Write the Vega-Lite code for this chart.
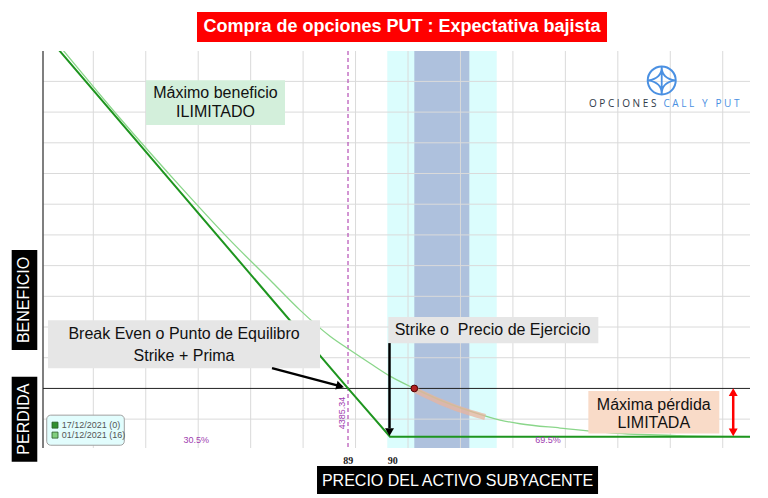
{
  "$schema": "https://vega.github.io/schema/vega-lite/v6.json",
  "width": 707,
  "height": 397,
  "autosize": "none",
  "padding": {"left": 43, "top": 51, "right": 18, "bottom": 50},
  "background": "white",
  "config": {"view": {"stroke": null}, "font": "Liberation Sans"},
  "datasets": {
    "outerBand": [{"x": 5.605, "x2": 7.691}],
    "innerBand": [{"x": 6.12, "x2": 7.169}],
    "vgrid": [{"x": 0}, {"x": 1}, {"x": 2}, {"x": 3}, {"x": 4}, {"x": 5}, {"x": 6}, {"x": 7}, {"x": 8}, {"x": 9}, {"x": 10}, {"x": 11}, {"x": 12}],
    "hgrid": [{"y": -1}, {"y": 1}, {"y": 2}, {"y": 3}, {"y": 4}, {"y": 5}, {"y": 6}, {"y": 7}, {"y": 8}, {"y": 9}, {"y": 10}],
    "leftEdge": [{"x": -0.959}],
    "zero": [{"y": 0}],
    "breakEven": [{"x": 4.856}],
    "expiry": [{"x": -0.959, "y": 11.63}, {"x": 4.856, "y": 0}, {"x": 5.657, "y": -1.57}, {"x": 12.52, "y": -1.57}],
    "t16": [
      {"x": -0.578, "y": 11.02}, {"x": 0.509, "y": 8.8}, {"x": 1.653, "y": 6.59}, {"x": 2.606, "y": 4.83},
      {"x": 3.369, "y": 3.53}, {"x": 3.941, "y": 2.55}, {"x": 4.513, "y": 1.7}, {"x": 4.894, "y": 1.25},
      {"x": 5.275, "y": 0.82}, {"x": 5.657, "y": 0.4}, {"x": 6.12, "y": 0}, {"x": 6.61, "y": -0.38},
      {"x": 7.182, "y": -0.74}, {"x": 7.754, "y": -1.03}, {"x": 8.135, "y": -1.15}, {"x": 8.898, "y": -1.29},
      {"x": 9.985, "y": -1.46}, {"x": 11.186, "y": -1.54}, {"x": 12.52, "y": -1.57}
    ],
    "nowRange": [{"x": 6.12, "y": -0.04}, {"x": 6.61, "y": -0.43}, {"x": 7.18, "y": -0.79}, {"x": 7.47, "y": -0.93}],
    "spot": [{"x": 6.12, "y": 0}],
    "boxes": [
      {"kind": "gain", "x": 1.005, "x2": 3.655, "y": 10.04, "y2": 8.58},
      {"kind": "note", "x": -0.864, "x2": 4.322, "y": 2.22, "y2": 0.66},
      {"kind": "note", "x": 5.624, "x2": 9.628, "y": 2.33, "y2": 1.47},
      {"kind": "loss", "x": 9.438, "x2": 11.935, "y": -0.08, "y2": -1.47}
    ],
    "notes": [
      {"x": 2.33, "y": 9.62, "text": "Máximo beneficio"},
      {"x": 2.33, "y": 9.0, "text": "ILIMITADO"},
      {"x": 1.73, "y": 1.76, "text": "Break Even o Punto de Equilibro"},
      {"x": 1.73, "y": 1.07, "text": "Strike + Prima"},
      {"x": 7.611, "y": 1.89, "text": "Strike o\u00a0 Precio de Ejercicio"},
      {"x": 10.685, "y": -0.544, "text": "Máxima pérdida"},
      {"x": 10.685, "y": -1.12, "text": "LIMITADA"}
    ],
    "blackArrows": [
      {"x": 3.407, "y": 0.661, "x2": 4.74, "y2": 0.06},
      {"x": 5.647, "y": 1.476, "x2": 5.647, "y2": -1.3}
    ],
    "headBE": [{"x": 4.706, "y": 0.075}],
    "headStrike": [{"x": 5.647, "y": -1.42}],
    "redArrow": [{"x": 12.2, "y": -0.1, "y2": -1.45}],
    "redHeadUp": [{"x": 12.2, "y": -0.12}],
    "redHeadDown": [{"x": 12.2, "y": -1.43}],
    "legendBox": [{"x": -0.888, "x2": 0.591, "y": -0.87, "y2": -1.85}],
    "legendItems": [
      {"series": "expiry", "x": -0.73, "tx": -0.602, "y": -1.195, "text": "17/12/2021 (0)"},
      {"series": "t16", "x": -0.73, "tx": -0.602, "y": -1.52, "text": "01/12/2021 (16)"}
    ],
    "pct": [{"x": 1.962, "y": -1.68, "text": "30.5%"}, {"x": 8.667, "y": -1.68, "text": "69.5%"}],
    "beValue": [{"x": 4.739, "y": -0.8, "text": "4385.34"}],
    "titleBox": [{"x": 1.977, "x2": 9.794, "y": 12.26, "y2": 11.28}],
    "labelBoxes": [
      {"x": -1.556, "x2": -1.068, "y": 4.51, "y2": 1.25},
      {"x": -1.556, "x2": -1.068, "y": 0.38, "y2": -2.39},
      {"x": 4.265, "x2": 9.623, "y": -2.53, "y2": -3.44}
    ],
    "titleText": [{"x": 5.886, "y": 11.77, "text": "Compra de opciones PUT : Expectativa bajista"}],
    "sideText": [{"x": -1.312, "y": 2.88, "text": "BENEFICIO"}, {"x": -1.312, "y": -1.0, "text": "PERDIDA"}],
    "xTitle": [{"x": 6.944, "y": -3.0, "text": "PRECIO DEL ACTIVO SUBYACENTE"}],
    "priceLabels": [{"x": 4.862, "y": -2.37, "text": "89"}, {"x": 5.709, "y": -2.37, "text": "90"}],
    "logoMark": [{"x": 10.837, "y": 10.03}],
    "logoWord1": [{"x": 9.45, "y": 9.28, "text": "O P C I O N E S"}],
    "logoWord2": [{"x": 10.87, "y": 9.28, "text": "C A L L\u00a0\u00a0 Y\u00a0\u00a0 P U T"}]
  },
  "layer": [
    {
      "data": {"name": "outerBand"},
      "mark": {"type": "rect", "color": "#dbfdfd"},
      "encoding": {
        "x": {"field": "x", "type": "quantitative", "scale": {"domain": [-0.959, 12.52], "nice": false, "zero": false},
          "axis": {"values": [0, 1, 2, 3, 4, 5, 6, 7, 8, 9, 10, 11, 12], "labels": false, "ticks": true, "tickSize": 4, "tickColor": "#666", "domain": true, "domainColor": "#111", "domainWidth": 1.2, "grid": false, "title": null, "zindex": 1}},
        "x2": {"field": "x2"}
      }
    },
    {
      "data": {"name": "innerBand"},
      "mark": {"type": "rect", "color": "#aec1dd"},
      "encoding": {
        "x": {"field": "x", "type": "quantitative", "scale": {"domain": [-0.959, 12.52], "nice": false, "zero": false}, "axis": null},
        "x2": {"field": "x2"}
      }
    },
    {
      "data": {"name": "vgrid"},
      "mark": {"type": "rule", "color": "#dadada", "strokeWidth": 1},
      "encoding": {
        "x": {"field": "x", "type": "quantitative", "scale": {"domain": [-0.959, 12.52], "nice": false, "zero": false}, "axis": null}
      }
    },
    {
      "data": {"name": "hgrid"},
      "mark": {"type": "rule", "color": "#dadada", "strokeWidth": 1},
      "encoding": {
        "y": {"field": "y", "type": "quantitative", "scale": {"domain": [-1.94, 10.99], "nice": false, "zero": false},
          "axis": {"orient": "right", "values": [-1, 0, 1, 2, 3, 4, 5, 6, 7, 8, 9, 10], "labels": false, "ticks": true, "tickSize": 4, "tickColor": "#444", "domain": true, "domainColor": "#444", "domainWidth": 1.5, "grid": false, "title": null, "zindex": 1}}
      }
    },
    {
      "data": {"name": "leftEdge"},
      "mark": {"type": "rule", "color": "#555", "strokeWidth": 1.5},
      "encoding": {
        "x": {"field": "x", "type": "quantitative", "scale": {"domain": [-0.959, 12.52], "nice": false, "zero": false}, "axis": null}
      }
    },
    {
      "data": {"name": "zero"},
      "mark": {"type": "rule", "color": "#222", "strokeWidth": 1},
      "encoding": {
        "y": {"field": "y", "type": "quantitative", "scale": {"domain": [-1.94, 10.99], "nice": false, "zero": false}, "axis": null}
      }
    },
    {
      "data": {"name": "breakEven"},
      "mark": {"type": "rule", "color": "#b64fb6", "strokeWidth": 1.2, "strokeDash": [4, 3]},
      "encoding": {
        "x": {"field": "x", "type": "quantitative", "scale": {"domain": [-0.959, 12.52], "nice": false, "zero": false}, "axis": null}
      }
    },
    {
      "data": {"name": "t16"},
      "mark": {"type": "line", "color": "#8ad68a", "strokeWidth": 1.3, "clip": true, "interpolate": "monotone"},
      "encoding": {
        "x": {"field": "x", "type": "quantitative", "scale": {"domain": [-0.959, 12.52], "nice": false, "zero": false}, "axis": null},
        "y": {"field": "y", "type": "quantitative", "scale": {"domain": [-1.94, 10.99], "nice": false, "zero": false}, "axis": null}
      }
    },
    {
      "data": {"name": "nowRange"},
      "mark": {"type": "line", "color": "#eab39c", "opacity": 0.75, "strokeWidth": 6, "strokeCap": "butt", "interpolate": "monotone"},
      "encoding": {
        "x": {"field": "x", "type": "quantitative", "scale": {"domain": [-0.959, 12.52], "nice": false, "zero": false}, "axis": null},
        "y": {"field": "y", "type": "quantitative", "scale": {"domain": [-1.94, 10.99], "nice": false, "zero": false}, "axis": null}
      }
    },
    {
      "data": {"name": "expiry"},
      "mark": {"type": "line", "color": "#1e951f", "strokeWidth": 2, "clip": true},
      "encoding": {
        "x": {"field": "x", "type": "quantitative", "scale": {"domain": [-0.959, 12.52], "nice": false, "zero": false}, "axis": null},
        "y": {"field": "y", "type": "quantitative", "scale": {"domain": [-1.94, 10.99], "nice": false, "zero": false}, "axis": null}
      }
    },
    {
      "data": {"name": "spot"},
      "mark": {"type": "point", "shape": "circle", "filled": true, "color": "#b22222", "stroke": "#4d0000", "strokeWidth": 1, "size": 45, "opacity": 1},
      "encoding": {
        "x": {"field": "x", "type": "quantitative", "scale": {"domain": [-0.959, 12.52], "nice": false, "zero": false}, "axis": null},
        "y": {"field": "y", "type": "quantitative", "scale": {"domain": [-1.94, 10.99], "nice": false, "zero": false}, "axis": null}
      }
    },
    {
      "data": {"name": "boxes"},
      "mark": {"type": "rect"},
      "encoding": {
        "x": {"field": "x", "type": "quantitative", "scale": {"domain": [-0.959, 12.52], "nice": false, "zero": false}, "axis": null},
        "x2": {"field": "x2"},
        "y": {"field": "y", "type": "quantitative", "scale": {"domain": [-1.94, 10.99], "nice": false, "zero": false}, "axis": null},
        "y2": {"field": "y2"},
        "color": {"field": "kind", "type": "nominal", "scale": {"domain": ["gain", "note", "loss"], "range": ["#d3efdb", "#e6e6e6", "#f9dbc8"]}, "legend": null}
      }
    },
    {
      "data": {"name": "notes"},
      "mark": {"type": "text", "fontSize": 16, "color": "#111", "align": "center", "baseline": "middle", "font": "Liberation Sans"},
      "encoding": {
        "x": {"field": "x", "type": "quantitative", "scale": {"domain": [-0.959, 12.52], "nice": false, "zero": false}, "axis": null},
        "y": {"field": "y", "type": "quantitative", "scale": {"domain": [-1.94, 10.99], "nice": false, "zero": false}, "axis": null},
        "text": {"field": "text"}
      }
    },
    {
      "data": {"name": "blackArrows"},
      "mark": {"type": "rule", "color": "#000", "strokeWidth": 2.5},
      "encoding": {
        "x": {"field": "x", "type": "quantitative", "scale": {"domain": [-0.959, 12.52], "nice": false, "zero": false}, "axis": null},
        "x2": {"field": "x2"},
        "y": {"field": "y", "type": "quantitative", "scale": {"domain": [-1.94, 10.99], "nice": false, "zero": false}, "axis": null},
        "y2": {"field": "y2"}
      }
    },
    {
      "data": {"name": "headBE"},
      "mark": {"type": "point", "shape": "triangle-up", "filled": true, "color": "#000", "size": 80, "angle": 105, "opacity": 1},
      "encoding": {
        "x": {"field": "x", "type": "quantitative", "scale": {"domain": [-0.959, 12.52], "nice": false, "zero": false}, "axis": null},
        "y": {"field": "y", "type": "quantitative", "scale": {"domain": [-1.94, 10.99], "nice": false, "zero": false}, "axis": null}
      }
    },
    {
      "data": {"name": "headStrike"},
      "mark": {"type": "point", "shape": "triangle-down", "filled": true, "color": "#000", "size": 80, "opacity": 1},
      "encoding": {
        "x": {"field": "x", "type": "quantitative", "scale": {"domain": [-0.959, 12.52], "nice": false, "zero": false}, "axis": null},
        "y": {"field": "y", "type": "quantitative", "scale": {"domain": [-1.94, 10.99], "nice": false, "zero": false}, "axis": null}
      }
    },
    {
      "data": {"name": "redArrow"},
      "mark": {"type": "rule", "color": "#ff0000", "strokeWidth": 2.5},
      "encoding": {
        "x": {"field": "x", "type": "quantitative", "scale": {"domain": [-0.959, 12.52], "nice": false, "zero": false}, "axis": null},
        "y": {"field": "y", "type": "quantitative", "scale": {"domain": [-1.94, 10.99], "nice": false, "zero": false}, "axis": null},
        "y2": {"field": "y2"}
      }
    },
    {
      "data": {"name": "redHeadUp"},
      "mark": {"type": "point", "shape": "triangle-up", "filled": true, "color": "#ff0000", "size": 80, "opacity": 1},
      "encoding": {
        "x": {"field": "x", "type": "quantitative", "scale": {"domain": [-0.959, 12.52], "nice": false, "zero": false}, "axis": null},
        "y": {"field": "y", "type": "quantitative", "scale": {"domain": [-1.94, 10.99], "nice": false, "zero": false}, "axis": null}
      }
    },
    {
      "data": {"name": "redHeadDown"},
      "mark": {"type": "point", "shape": "triangle-down", "filled": true, "color": "#ff0000", "size": 80, "opacity": 1},
      "encoding": {
        "x": {"field": "x", "type": "quantitative", "scale": {"domain": [-0.959, 12.52], "nice": false, "zero": false}, "axis": null},
        "y": {"field": "y", "type": "quantitative", "scale": {"domain": [-1.94, 10.99], "nice": false, "zero": false}, "axis": null}
      }
    },
    {
      "data": {"name": "legendBox"},
      "mark": {"type": "rect", "fill": "#e2fdfd", "stroke": "#a0a0a0", "strokeWidth": 1, "cornerRadius": 4},
      "encoding": {
        "x": {"field": "x", "type": "quantitative", "scale": {"domain": [-0.959, 12.52], "nice": false, "zero": false}, "axis": null},
        "x2": {"field": "x2"},
        "y": {"field": "y", "type": "quantitative", "scale": {"domain": [-1.94, 10.99], "nice": false, "zero": false}, "axis": null},
        "y2": {"field": "y2"}
      }
    },
    {
      "data": {"name": "legendItems"},
      "mark": {"type": "square", "size": 36, "opacity": 1, "stroke": "#2a5a2a", "strokeWidth": 0.8},
      "encoding": {
        "x": {"field": "x", "type": "quantitative", "scale": {"domain": [-0.959, 12.52], "nice": false, "zero": false}, "axis": null},
        "y": {"field": "y", "type": "quantitative", "scale": {"domain": [-1.94, 10.99], "nice": false, "zero": false}, "axis": null},
        "fill": {"field": "series", "type": "nominal", "scale": {"domain": ["expiry", "t16"], "range": ["#2f8f2f", "#7fcf7f"]}, "legend": null}
      }
    },
    {
      "data": {"name": "legendItems"},
      "mark": {"type": "text", "fontSize": 9, "color": "#555", "align": "left", "baseline": "middle"},
      "encoding": {
        "x": {"field": "tx", "type": "quantitative", "scale": {"domain": [-0.959, 12.52], "nice": false, "zero": false}, "axis": null},
        "y": {"field": "y", "type": "quantitative", "scale": {"domain": [-1.94, 10.99], "nice": false, "zero": false}, "axis": null},
        "text": {"field": "text"}
      }
    },
    {
      "data": {"name": "pct"},
      "mark": {"type": "text", "fontSize": 9, "color": "#a040b0", "align": "center", "baseline": "middle"},
      "encoding": {
        "x": {"field": "x", "type": "quantitative", "scale": {"domain": [-0.959, 12.52], "nice": false, "zero": false}, "axis": null},
        "y": {"field": "y", "type": "quantitative", "scale": {"domain": [-1.94, 10.99], "nice": false, "zero": false}, "axis": null},
        "text": {"field": "text"}
      }
    },
    {
      "data": {"name": "beValue"},
      "mark": {"type": "text", "fontSize": 9, "color": "#a040b0", "align": "center", "baseline": "middle", "angle": 270},
      "encoding": {
        "x": {"field": "x", "type": "quantitative", "scale": {"domain": [-0.959, 12.52], "nice": false, "zero": false}, "axis": null},
        "y": {"field": "y", "type": "quantitative", "scale": {"domain": [-1.94, 10.99], "nice": false, "zero": false}, "axis": null},
        "text": {"field": "text"}
      }
    },
    {
      "data": {"name": "titleBox"},
      "mark": {"type": "rect", "color": "#ff0000"},
      "encoding": {
        "x": {"field": "x", "type": "quantitative", "scale": {"domain": [-0.959, 12.52], "nice": false, "zero": false}, "axis": null},
        "x2": {"field": "x2"},
        "y": {"field": "y", "type": "quantitative", "scale": {"domain": [-1.94, 10.99], "nice": false, "zero": false}, "axis": null},
        "y2": {"field": "y2"}
      }
    },
    {
      "data": {"name": "labelBoxes"},
      "mark": {"type": "rect", "color": "#000000"},
      "encoding": {
        "x": {"field": "x", "type": "quantitative", "scale": {"domain": [-0.959, 12.52], "nice": false, "zero": false}, "axis": null},
        "x2": {"field": "x2"},
        "y": {"field": "y", "type": "quantitative", "scale": {"domain": [-1.94, 10.99], "nice": false, "zero": false}, "axis": null},
        "y2": {"field": "y2"}
      }
    },
    {
      "data": {"name": "titleText"},
      "mark": {"type": "text", "fontSize": 18, "fontWeight": "bold", "color": "#fff", "align": "center", "baseline": "middle"},
      "encoding": {
        "x": {"field": "x", "type": "quantitative", "scale": {"domain": [-0.959, 12.52], "nice": false, "zero": false}, "axis": null},
        "y": {"field": "y", "type": "quantitative", "scale": {"domain": [-1.94, 10.99], "nice": false, "zero": false}, "axis": null},
        "text": {"field": "text"}
      }
    },
    {
      "data": {"name": "sideText"},
      "mark": {"type": "text", "fontSize": 16, "color": "#fff", "align": "center", "baseline": "middle", "angle": 270},
      "encoding": {
        "x": {"field": "x", "type": "quantitative", "scale": {"domain": [-0.959, 12.52], "nice": false, "zero": false}, "axis": null},
        "y": {"field": "y", "type": "quantitative", "scale": {"domain": [-1.94, 10.99], "nice": false, "zero": false}, "axis": null},
        "text": {"field": "text"}
      }
    },
    {
      "data": {"name": "xTitle"},
      "mark": {"type": "text", "fontSize": 16, "color": "#fff", "align": "center", "baseline": "middle"},
      "encoding": {
        "x": {"field": "x", "type": "quantitative", "scale": {"domain": [-0.959, 12.52], "nice": false, "zero": false}, "axis": null},
        "y": {"field": "y", "type": "quantitative", "scale": {"domain": [-1.94, 10.99], "nice": false, "zero": false}, "axis": null},
        "text": {"field": "text"}
      }
    },
    {
      "data": {"name": "priceLabels"},
      "mark": {"type": "text", "fontSize": 10, "fontWeight": "bold", "font": "Liberation Serif", "color": "#222", "align": "center", "baseline": "middle"},
      "encoding": {
        "x": {"field": "x", "type": "quantitative", "scale": {"domain": [-0.959, 12.52], "nice": false, "zero": false}, "axis": null},
        "y": {"field": "y", "type": "quantitative", "scale": {"domain": [-1.94, 10.99], "nice": false, "zero": false}, "axis": null},
        "text": {"field": "text"}
      }
    },
    {
      "data": {"name": "logoMark"},
      "mark": {"type": "point", "shape": "circle", "filled": false, "stroke": "#4a90e2", "strokeWidth": 2, "size": 784, "opacity": 1},
      "encoding": {
        "x": {"field": "x", "type": "quantitative", "scale": {"domain": [-0.959, 12.52], "nice": false, "zero": false}, "axis": null},
        "y": {"field": "y", "type": "quantitative", "scale": {"domain": [-1.94, 10.99], "nice": false, "zero": false}, "axis": null}
      }
    },
    {
      "data": {"name": "logoMark"},
      "mark": {"type": "point", "shape": "M0,-1 Q0,-0.15 -1,0 Q0,0.15 0,1 Q0,0.15 1,0 Q0,-0.15 0,-1 Z M0,-1 L0,1", "filled": false, "stroke": "#4a90e2", "strokeWidth": 1.8, "size": 729, "opacity": 1},
      "encoding": {
        "x": {"field": "x", "type": "quantitative", "scale": {"domain": [-0.959, 12.52], "nice": false, "zero": false}, "axis": null},
        "y": {"field": "y", "type": "quantitative", "scale": {"domain": [-1.94, 10.99], "nice": false, "zero": false}, "axis": null}
      }
    },
    {
      "data": {"name": "logoWord1"},
      "mark": {"type": "text", "fontSize": 10, "font": "Open Sans", "fontWeight": "normal", "color": "#2f3a48", "align": "left", "baseline": "middle"},
      "encoding": {
        "x": {"field": "x", "type": "quantitative", "scale": {"domain": [-0.959, 12.52], "nice": false, "zero": false}, "axis": null},
        "y": {"field": "y", "type": "quantitative", "scale": {"domain": [-1.94, 10.99], "nice": false, "zero": false}, "axis": null},
        "text": {"field": "text"}
      }
    },
    {
      "data": {"name": "logoWord2"},
      "mark": {"type": "text", "fontSize": 10, "font": "Open Sans", "color": "#4a90e2", "align": "left", "baseline": "middle"},
      "encoding": {
        "x": {"field": "x", "type": "quantitative", "scale": {"domain": [-0.959, 12.52], "nice": false, "zero": false}, "axis": null},
        "y": {"field": "y", "type": "quantitative", "scale": {"domain": [-1.94, 10.99], "nice": false, "zero": false}, "axis": null},
        "text": {"field": "text"}
      }
    }
  ]
}
